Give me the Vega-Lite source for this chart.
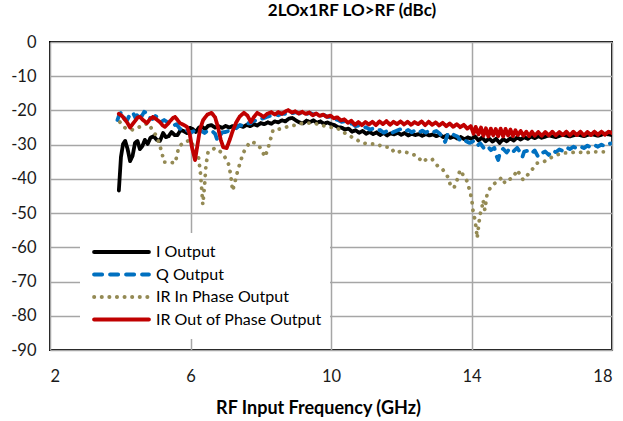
{
  "$schema": "https://vega.github.io/schema/vega-lite/v6.json",
  "width": 562,
  "height": 308,
  "autosize": "none",
  "padding": {"left": 50, "top": 42, "right": 11, "bottom": 71},
  "background": "white",
  "title": {"text": "2LOx1RF LO>RF (dBc)", "fontSize": 17, "font": "Lato", "fontWeight": "bold", "color": "#000000", "offset": 14, "dx": 21},
  "config": {
    "view": {"stroke": "#000000", "strokeWidth": 2},
    "axis": {"labelFont": "Lato", "labelFontSize": 16.5, "labelColor": "#1a1a1a", "titleFont": "Lato", "titleFontSize": 18, "titleFontWeight": "bold", "titleColor": "#000000", "gridColor": "#a6a6a6", "gridWidth": 1.5, "gridOpacity": 1, "domain": false, "ticks": false},
    "legend": {"labelFont": "Lato", "labelFontSize": 16, "labelColor": "#000000", "labelLimit": 400}
  },
  "data": {"values": [
    {"s":"I Output","f":3.96,"db":-43.4},{"s":"I Output","f":4.02,"db":-33.6},{"s":"I Output","f":4.08,"db":-29.8},{"s":"I Output","f":4.14,"db":-28.9},{"s":"I Output","f":4.21,"db":-31.3},{"s":"I Output","f":4.28,"db":-34.8},{"s":"I Output","f":4.35,"db":-33.3},{"s":"I Output","f":4.42,"db":-29.5},{"s":"I Output","f":4.49,"db":-28.9},{"s":"I Output","f":4.56,"db":-31.3},{"s":"I Output","f":4.63,"db":-30.4},{"s":"I Output","f":4.7,"db":-28.6},{"s":"I Output","f":4.78,"db":-29.8},{"s":"I Output","f":4.86,"db":-28.0},{"s":"I Output","f":4.95,"db":-27.5},{"s":"I Output","f":5.04,"db":-28.6},{"s":"I Output","f":5.13,"db":-28.9},{"s":"I Output","f":5.22,"db":-26.6},{"s":"I Output","f":5.3,"db":-27.8},{"s":"I Output","f":5.38,"db":-27.5},{"s":"I Output","f":5.46,"db":-26.3},{"s":"I Output","f":5.55,"db":-27.2},{"s":"I Output","f":5.63,"db":-27.2},{"s":"I Output","f":5.72,"db":-25.7},{"s":"I Output","f":5.8,"db":-26.0},{"s":"I Output","f":5.9,"db":-26.6},{"s":"I Output","f":5.98,"db":-25.1},{"s":"I Output","f":6.06,"db":-25.4},{"s":"I Output","f":6.15,"db":-26.3},{"s":"I Output","f":6.24,"db":-25.0},{"s":"I Output","f":6.33,"db":-24.8},{"s":"I Output","f":6.42,"db":-25.4},{"s":"I Output","f":6.5,"db":-24.5},{"s":"I Output","f":6.6,"db":-24.3},{"s":"I Output","f":6.7,"db":-25.0},{"s":"I Output","f":6.8,"db":-24.6},{"s":"I Output","f":6.9,"db":-25.1},{"s":"I Output","f":7.0,"db":-24.5},{"s":"I Output","f":7.1,"db":-25.0},{"s":"I Output","f":7.2,"db":-24.6},{"s":"I Output","f":7.3,"db":-24.9},{"s":"I Output","f":7.4,"db":-24.4},{"s":"I Output","f":7.5,"db":-24.8},{"s":"I Output","f":7.6,"db":-24.2},{"s":"I Output","f":7.7,"db":-24.6},{"s":"I Output","f":7.8,"db":-24.0},{"s":"I Output","f":7.9,"db":-24.4},{"s":"I Output","f":8.0,"db":-23.7},{"s":"I Output","f":8.1,"db":-24.0},{"s":"I Output","f":8.2,"db":-23.5},{"s":"I Output","f":8.3,"db":-23.9},{"s":"I Output","f":8.4,"db":-23.2},{"s":"I Output","f":8.5,"db":-23.5},{"s":"I Output","f":8.6,"db":-22.9},{"s":"I Output","f":8.7,"db":-23.2},{"s":"I Output","f":8.8,"db":-22.4},{"s":"I Output","f":8.9,"db":-22.2},{"s":"I Output","f":9.0,"db":-22.9},{"s":"I Output","f":9.1,"db":-23.5},{"s":"I Output","f":9.2,"db":-23.8},{"s":"I Output","f":9.3,"db":-23.0},{"s":"I Output","f":9.4,"db":-23.4},{"s":"I Output","f":9.5,"db":-22.9},{"s":"I Output","f":9.6,"db":-23.6},{"s":"I Output","f":9.7,"db":-23.2},{"s":"I Output","f":9.8,"db":-23.9},{"s":"I Output","f":9.9,"db":-23.5},{"s":"I Output","f":10.0,"db":-24.0},{"s":"I Output","f":10.1,"db":-24.3},{"s":"I Output","f":10.2,"db":-24.9},{"s":"I Output","f":10.3,"db":-25.0},{"s":"I Output","f":10.4,"db":-25.6},{"s":"I Output","f":10.5,"db":-25.3},{"s":"I Output","f":10.6,"db":-26.2},{"s":"I Output","f":10.7,"db":-25.8},{"s":"I Output","f":10.8,"db":-26.5},{"s":"I Output","f":10.9,"db":-26.0},{"s":"I Output","f":11.0,"db":-26.8},{"s":"I Output","f":11.1,"db":-26.3},{"s":"I Output","f":11.2,"db":-26.9},{"s":"I Output","f":11.3,"db":-26.4},{"s":"I Output","f":11.4,"db":-27.2},{"s":"I Output","f":11.5,"db":-26.6},{"s":"I Output","f":11.6,"db":-27.3},{"s":"I Output","f":11.7,"db":-26.7},{"s":"I Output","f":11.8,"db":-27.0},{"s":"I Output","f":11.9,"db":-26.5},{"s":"I Output","f":12.0,"db":-27.1},{"s":"I Output","f":12.1,"db":-26.6},{"s":"I Output","f":12.2,"db":-27.3},{"s":"I Output","f":12.3,"db":-26.8},{"s":"I Output","f":12.4,"db":-27.2},{"s":"I Output","f":12.5,"db":-26.9},{"s":"I Output","f":12.6,"db":-27.4},{"s":"I Output","f":12.7,"db":-26.9},{"s":"I Output","f":12.8,"db":-27.3},{"s":"I Output","f":12.9,"db":-27.0},{"s":"I Output","f":13.0,"db":-27.5},{"s":"I Output","f":13.1,"db":-27.1},{"s":"I Output","f":13.2,"db":-27.8},{"s":"I Output","f":13.3,"db":-27.3},{"s":"I Output","f":13.4,"db":-28.0},{"s":"I Output","f":13.5,"db":-27.6},{"s":"I Output","f":13.6,"db":-28.2},{"s":"I Output","f":13.7,"db":-27.8},{"s":"I Output","f":13.8,"db":-28.4},{"s":"I Output","f":13.9,"db":-27.9},{"s":"I Output","f":14.0,"db":-28.3},{"s":"I Output","f":14.1,"db":-27.6},{"s":"I Output","f":14.2,"db":-28.8},{"s":"I Output","f":14.3,"db":-27.9},{"s":"I Output","f":14.4,"db":-29.0},{"s":"I Output","f":14.5,"db":-28.2},{"s":"I Output","f":14.6,"db":-29.1},{"s":"I Output","f":14.7,"db":-28.3},{"s":"I Output","f":14.8,"db":-29.5},{"s":"I Output","f":14.9,"db":-28.4},{"s":"I Output","f":15.0,"db":-29.0},{"s":"I Output","f":15.1,"db":-28.2},{"s":"I Output","f":15.2,"db":-28.8},{"s":"I Output","f":15.3,"db":-27.9},{"s":"I Output","f":15.4,"db":-28.5},{"s":"I Output","f":15.5,"db":-27.8},{"s":"I Output","f":15.6,"db":-28.3},{"s":"I Output","f":15.7,"db":-27.6},{"s":"I Output","f":15.8,"db":-28.1},{"s":"I Output","f":15.9,"db":-27.5},{"s":"I Output","f":16.0,"db":-28.0},{"s":"I Output","f":16.2,"db":-27.3},{"s":"I Output","f":16.4,"db":-27.8},{"s":"I Output","f":16.6,"db":-27.1},{"s":"I Output","f":16.8,"db":-27.6},{"s":"I Output","f":17.0,"db":-27.0},{"s":"I Output","f":17.2,"db":-27.5},{"s":"I Output","f":17.4,"db":-26.9},{"s":"I Output","f":17.6,"db":-27.4},{"s":"I Output","f":17.8,"db":-26.8},{"s":"I Output","f":18.0,"db":-27.2},

    {"s":"Q Output","f":3.92,"db":-22.8},{"s":"Q Output","f":3.98,"db":-21.0},{"s":"Q Output","f":4.05,"db":-20.4},{"s":"Q Output","f":4.12,"db":-22.5},{"s":"Q Output","f":4.2,"db":-22.8},{"s":"Q Output","f":4.28,"db":-21.0},{"s":"Q Output","f":4.36,"db":-20.6},{"s":"Q Output","f":4.44,"db":-22.3},{"s":"Q Output","f":4.52,"db":-20.5},{"s":"Q Output","f":4.6,"db":-21.9},{"s":"Q Output","f":4.68,"db":-20.4},{"s":"Q Output","f":4.76,"db":-20.7},{"s":"Q Output","f":4.84,"db":-22.2},{"s":"Q Output","f":4.92,"db":-22.5},{"s":"Q Output","f":5.0,"db":-21.6},{"s":"Q Output","f":5.08,"db":-22.2},{"s":"Q Output","f":5.16,"db":-23.4},{"s":"Q Output","f":5.25,"db":-22.8},{"s":"Q Output","f":5.34,"db":-23.4},{"s":"Q Output","f":5.42,"db":-24.3},{"s":"Q Output","f":5.5,"db":-24.5},{"s":"Q Output","f":5.6,"db":-24.0},{"s":"Q Output","f":5.7,"db":-25.4},{"s":"Q Output","f":5.8,"db":-25.0},{"s":"Q Output","f":5.9,"db":-25.8},{"s":"Q Output","f":6.0,"db":-26.6},{"s":"Q Output","f":6.1,"db":-26.0},{"s":"Q Output","f":6.2,"db":-26.8},{"s":"Q Output","f":6.3,"db":-25.9},{"s":"Q Output","f":6.4,"db":-26.6},{"s":"Q Output","f":6.5,"db":-25.8},{"s":"Q Output","f":6.6,"db":-25.9},{"s":"Q Output","f":6.7,"db":-26.8},{"s":"Q Output","f":6.76,"db":-28.6},{"s":"Q Output","f":6.82,"db":-28.0},{"s":"Q Output","f":6.9,"db":-26.4},{"s":"Q Output","f":7.0,"db":-26.3},{"s":"Q Output","f":7.1,"db":-25.9},{"s":"Q Output","f":7.2,"db":-25.0},{"s":"Q Output","f":7.3,"db":-25.2},{"s":"Q Output","f":7.4,"db":-24.3},{"s":"Q Output","f":7.5,"db":-24.5},{"s":"Q Output","f":7.6,"db":-23.7},{"s":"Q Output","f":7.7,"db":-23.8},{"s":"Q Output","f":7.8,"db":-22.9},{"s":"Q Output","f":7.9,"db":-23.2},{"s":"Q Output","f":8.0,"db":-22.5},{"s":"Q Output","f":8.1,"db":-22.2},{"s":"Q Output","f":8.2,"db":-21.8},{"s":"Q Output","f":8.3,"db":-21.5},{"s":"Q Output","f":8.4,"db":-21.2},{"s":"Q Output","f":8.5,"db":-21.4},{"s":"Q Output","f":8.6,"db":-20.9},{"s":"Q Output","f":8.7,"db":-21.0},{"s":"Q Output","f":8.8,"db":-20.5},{"s":"Q Output","f":8.9,"db":-20.8},{"s":"Q Output","f":9.0,"db":-20.5},{"s":"Q Output","f":9.1,"db":-20.9},{"s":"Q Output","f":9.2,"db":-20.6},{"s":"Q Output","f":9.3,"db":-21.1},{"s":"Q Output","f":9.4,"db":-20.7},{"s":"Q Output","f":9.5,"db":-21.2},{"s":"Q Output","f":9.6,"db":-20.9},{"s":"Q Output","f":9.7,"db":-21.5},{"s":"Q Output","f":9.8,"db":-21.3},{"s":"Q Output","f":9.9,"db":-21.9},{"s":"Q Output","f":10.0,"db":-21.8},{"s":"Q Output","f":10.1,"db":-22.5},{"s":"Q Output","f":10.2,"db":-22.8},{"s":"Q Output","f":10.3,"db":-23.3},{"s":"Q Output","f":10.4,"db":-23.2},{"s":"Q Output","f":10.5,"db":-24.0},{"s":"Q Output","f":10.6,"db":-23.8},{"s":"Q Output","f":10.7,"db":-24.6},{"s":"Q Output","f":10.8,"db":-24.4},{"s":"Q Output","f":10.9,"db":-25.2},{"s":"Q Output","f":11.0,"db":-24.9},{"s":"Q Output","f":11.1,"db":-25.6},{"s":"Q Output","f":11.2,"db":-25.3},{"s":"Q Output","f":11.3,"db":-26.0},{"s":"Q Output","f":11.4,"db":-25.7},{"s":"Q Output","f":11.5,"db":-26.5},{"s":"Q Output","f":11.6,"db":-26.0},{"s":"Q Output","f":11.7,"db":-26.8},{"s":"Q Output","f":11.8,"db":-26.2},{"s":"Q Output","f":11.9,"db":-25.8},{"s":"Q Output","f":12.0,"db":-25.4},{"s":"Q Output","f":12.1,"db":-26.2},{"s":"Q Output","f":12.2,"db":-25.7},{"s":"Q Output","f":12.3,"db":-26.4},{"s":"Q Output","f":12.4,"db":-25.8},{"s":"Q Output","f":12.5,"db":-26.5},{"s":"Q Output","f":12.6,"db":-25.9},{"s":"Q Output","f":12.7,"db":-26.5},{"s":"Q Output","f":12.8,"db":-25.8},{"s":"Q Output","f":12.9,"db":-26.4},{"s":"Q Output","f":13.0,"db":-26.0},{"s":"Q Output","f":13.1,"db":-26.8},{"s":"Q Output","f":13.18,"db":-28.0},{"s":"Q Output","f":13.25,"db":-29.2},{"s":"Q Output","f":13.32,"db":-27.0},{"s":"Q Output","f":13.4,"db":-26.4},{"s":"Q Output","f":13.5,"db":-27.2},{"s":"Q Output","f":13.6,"db":-27.6},{"s":"Q Output","f":13.68,"db":-28.8},{"s":"Q Output","f":13.76,"db":-28.3},{"s":"Q Output","f":13.85,"db":-29.0},{"s":"Q Output","f":13.95,"db":-29.5},{"s":"Q Output","f":14.05,"db":-29.0},{"s":"Q Output","f":14.15,"db":-30.4},{"s":"Q Output","f":14.25,"db":-29.6},{"s":"Q Output","f":14.35,"db":-31.0},{"s":"Q Output","f":14.45,"db":-30.3},{"s":"Q Output","f":14.55,"db":-31.6},{"s":"Q Output","f":14.65,"db":-30.9},{"s":"Q Output","f":14.72,"db":-33.5},{"s":"Q Output","f":14.76,"db":-34.5},{"s":"Q Output","f":14.82,"db":-32.0},{"s":"Q Output","f":14.9,"db":-31.2},{"s":"Q Output","f":15.0,"db":-32.3},{"s":"Q Output","f":15.1,"db":-31.0},{"s":"Q Output","f":15.2,"db":-31.9},{"s":"Q Output","f":15.3,"db":-30.9},{"s":"Q Output","f":15.4,"db":-32.5},{"s":"Q Output","f":15.45,"db":-33.6},{"s":"Q Output","f":15.5,"db":-32.0},{"s":"Q Output","f":15.6,"db":-31.8},{"s":"Q Output","f":15.7,"db":-32.6},{"s":"Q Output","f":15.8,"db":-31.7},{"s":"Q Output","f":15.9,"db":-33.6},{"s":"Q Output","f":16.0,"db":-32.5},{"s":"Q Output","f":16.1,"db":-32.0},{"s":"Q Output","f":16.2,"db":-33.0},{"s":"Q Output","f":16.3,"db":-31.7},{"s":"Q Output","f":16.4,"db":-32.2},{"s":"Q Output","f":16.5,"db":-31.4},{"s":"Q Output","f":16.6,"db":-31.8},{"s":"Q Output","f":16.7,"db":-30.8},{"s":"Q Output","f":16.8,"db":-31.3},{"s":"Q Output","f":16.9,"db":-30.6},{"s":"Q Output","f":17.0,"db":-31.1},{"s":"Q Output","f":17.1,"db":-30.5},{"s":"Q Output","f":17.2,"db":-31.0},{"s":"Q Output","f":17.3,"db":-30.3},{"s":"Q Output","f":17.4,"db":-30.8},{"s":"Q Output","f":17.5,"db":-30.1},{"s":"Q Output","f":17.6,"db":-30.6},{"s":"Q Output","f":17.7,"db":-30.0},{"s":"Q Output","f":17.8,"db":-30.5},{"s":"Q Output","f":17.9,"db":-29.8},{"s":"Q Output","f":18.0,"db":-29.6},

    {"s":"IR In Phase Output","f":3.99,"db":-23.4},{"s":"IR In Phase Output","f":4.14,"db":-25.1},{"s":"IR In Phase Output","f":4.36,"db":-25.7},{"s":"IR In Phase Output","f":4.79,"db":-23.7},{"s":"IR In Phase Output","f":5.05,"db":-27.8},{"s":"IR In Phase Output","f":5.19,"db":-32.4},{"s":"IR In Phase Output","f":5.24,"db":-35.1},{"s":"IR In Phase Output","f":5.4,"db":-35.1},{"s":"IR In Phase Output","f":5.56,"db":-35.4},{"s":"IR In Phase Output","f":5.62,"db":-33.0},{"s":"IR In Phase Output","f":5.66,"db":-30.7},{"s":"IR In Phase Output","f":5.79,"db":-29.5},{"s":"IR In Phase Output","f":5.99,"db":-28.6},{"s":"IR In Phase Output","f":6.22,"db":-33.0},{"s":"IR In Phase Output","f":6.28,"db":-38.0},{"s":"IR In Phase Output","f":6.32,"db":-43.0},{"s":"IR In Phase Output","f":6.35,"db":-47.5},{"s":"IR In Phase Output","f":6.4,"db":-42.0},{"s":"IR In Phase Output","f":6.44,"db":-36.0},{"s":"IR In Phase Output","f":6.5,"db":-32.1},{"s":"IR In Phase Output","f":6.7,"db":-31.0},{"s":"IR In Phase Output","f":6.9,"db":-32.4},{"s":"IR In Phase Output","f":7.07,"db":-35.1},{"s":"IR In Phase Output","f":7.14,"db":-38.5},{"s":"IR In Phase Output","f":7.2,"db":-43.5},{"s":"IR In Phase Output","f":7.28,"db":-40.3},{"s":"IR In Phase Output","f":7.35,"db":-37.4},{"s":"IR In Phase Output","f":7.5,"db":-32.4},{"s":"IR In Phase Output","f":7.69,"db":-29.2},{"s":"IR In Phase Output","f":7.84,"db":-29.5},{"s":"IR In Phase Output","f":8.0,"db":-31.0},{"s":"IR In Phase Output","f":8.12,"db":-33.6},{"s":"IR In Phase Output","f":8.21,"db":-31.0},{"s":"IR In Phase Output","f":8.35,"db":-25.7},{"s":"IR In Phase Output","f":8.55,"db":-25.4},{"s":"IR In Phase Output","f":8.75,"db":-24.8},{"s":"IR In Phase Output","f":8.98,"db":-24.3},{"s":"IR In Phase Output","f":9.2,"db":-23.7},{"s":"IR In Phase Output","f":9.46,"db":-23.7},{"s":"IR In Phase Output","f":9.63,"db":-24.0},{"s":"IR In Phase Output","f":9.9,"db":-24.8},{"s":"IR In Phase Output","f":10.17,"db":-25.1},{"s":"IR In Phase Output","f":10.34,"db":-26.3},{"s":"IR In Phase Output","f":10.68,"db":-28.3},{"s":"IR In Phase Output","f":10.9,"db":-29.5},{"s":"IR In Phase Output","f":11.1,"db":-29.8},{"s":"IR In Phase Output","f":11.31,"db":-29.8},{"s":"IR In Phase Output","f":11.48,"db":-30.7},{"s":"IR In Phase Output","f":11.68,"db":-30.7},{"s":"IR In Phase Output","f":11.82,"db":-32.4},{"s":"IR In Phase Output","f":12.02,"db":-31.9},{"s":"IR In Phase Output","f":12.2,"db":-32.4},{"s":"IR In Phase Output","f":12.45,"db":-33.3},{"s":"IR In Phase Output","f":12.6,"db":-35.1},{"s":"IR In Phase Output","f":12.73,"db":-34.2},{"s":"IR In Phase Output","f":12.88,"db":-34.2},{"s":"IR In Phase Output","f":12.95,"db":-35.4},{"s":"IR In Phase Output","f":13.05,"db":-36.3},{"s":"IR In Phase Output","f":13.19,"db":-37.4},{"s":"IR In Phase Output","f":13.33,"db":-39.5},{"s":"IR In Phase Output","f":13.4,"db":-41.8},{"s":"IR In Phase Output","f":13.5,"db":-42.7},{"s":"IR In Phase Output","f":13.62,"db":-39.5},{"s":"IR In Phase Output","f":13.67,"db":-37.4},{"s":"IR In Phase Output","f":13.87,"db":-40.6},{"s":"IR In Phase Output","f":13.96,"db":-43.8},{"s":"IR In Phase Output","f":14.01,"db":-46.2},{"s":"IR In Phase Output","f":14.04,"db":-49.1},{"s":"IR In Phase Output","f":14.1,"db":-52.0},{"s":"IR In Phase Output","f":14.14,"db":-55.0},{"s":"IR In Phase Output","f":14.16,"db":-57.3},{"s":"IR In Phase Output","f":14.24,"db":-50.6},{"s":"IR In Phase Output","f":14.3,"db":-48.2},{"s":"IR In Phase Output","f":14.33,"db":-46.2},{"s":"IR In Phase Output","f":14.38,"db":-49.1},{"s":"IR In Phase Output","f":14.44,"db":-44.7},{"s":"IR In Phase Output","f":14.47,"db":-43.8},{"s":"IR In Phase Output","f":14.58,"db":-41.8},{"s":"IR In Phase Output","f":14.73,"db":-40.9},{"s":"IR In Phase Output","f":14.87,"db":-39.5},{"s":"IR In Phase Output","f":14.95,"db":-41.2},{"s":"IR In Phase Output","f":15.04,"db":-40.3},{"s":"IR In Phase Output","f":15.18,"db":-39.7},{"s":"IR In Phase Output","f":15.3,"db":-37.4},{"s":"IR In Phase Output","f":15.47,"db":-40.3},{"s":"IR In Phase Output","f":15.67,"db":-38.0},{"s":"IR In Phase Output","f":15.87,"db":-35.4},{"s":"IR In Phase Output","f":16.04,"db":-35.1},{"s":"IR In Phase Output","f":16.24,"db":-33.9},{"s":"IR In Phase Output","f":16.43,"db":-33.0},{"s":"IR In Phase Output","f":16.6,"db":-32.4},{"s":"IR In Phase Output","f":16.8,"db":-32.4},{"s":"IR In Phase Output","f":17.0,"db":-32.1},{"s":"IR In Phase Output","f":17.23,"db":-32.4},{"s":"IR In Phase Output","f":17.46,"db":-32.1},{"s":"IR In Phase Output","f":17.72,"db":-32.1},{"s":"IR In Phase Output","f":17.94,"db":-32.1},

    {"s":"IR Out of Phase Output","f":3.96,"db":-21.0},{"s":"IR Out of Phase Output","f":4.05,"db":-21.6},{"s":"IR Out of Phase Output","f":4.12,"db":-22.5},{"s":"IR Out of Phase Output","f":4.19,"db":-23.4},{"s":"IR Out of Phase Output","f":4.28,"db":-25.0},{"s":"IR Out of Phase Output","f":4.35,"db":-24.0},{"s":"IR Out of Phase Output","f":4.42,"db":-23.1},{"s":"IR Out of Phase Output","f":4.5,"db":-22.0},{"s":"IR Out of Phase Output","f":4.56,"db":-21.9},{"s":"IR Out of Phase Output","f":4.65,"db":-22.8},{"s":"IR Out of Phase Output","f":4.76,"db":-23.7},{"s":"IR Out of Phase Output","f":4.85,"db":-22.5},{"s":"IR Out of Phase Output","f":4.93,"db":-21.9},{"s":"IR Out of Phase Output","f":5.03,"db":-22.6},{"s":"IR Out of Phase Output","f":5.13,"db":-23.4},{"s":"IR Out of Phase Output","f":5.2,"db":-24.3},{"s":"IR Out of Phase Output","f":5.27,"db":-24.8},{"s":"IR Out of Phase Output","f":5.35,"db":-24.0},{"s":"IR Out of Phase Output","f":5.42,"db":-23.1},{"s":"IR Out of Phase Output","f":5.5,"db":-22.2},{"s":"IR Out of Phase Output","f":5.56,"db":-21.9},{"s":"IR Out of Phase Output","f":5.63,"db":-22.8},{"s":"IR Out of Phase Output","f":5.7,"db":-23.7},{"s":"IR Out of Phase Output","f":5.8,"db":-24.2},{"s":"IR Out of Phase Output","f":5.9,"db":-24.8},{"s":"IR Out of Phase Output","f":5.98,"db":-27.0},{"s":"IR Out of Phase Output","f":6.04,"db":-30.7},{"s":"IR Out of Phase Output","f":6.13,"db":-34.5},{"s":"IR Out of Phase Output","f":6.2,"db":-30.0},{"s":"IR Out of Phase Output","f":6.27,"db":-25.5},{"s":"IR Out of Phase Output","f":6.36,"db":-22.8},{"s":"IR Out of Phase Output","f":6.48,"db":-21.2},{"s":"IR Out of Phase Output","f":6.6,"db":-20.7},{"s":"IR Out of Phase Output","f":6.7,"db":-22.0},{"s":"IR Out of Phase Output","f":6.78,"db":-24.8},{"s":"IR Out of Phase Output","f":6.86,"db":-28.5},{"s":"IR Out of Phase Output","f":6.93,"db":-30.7},{"s":"IR Out of Phase Output","f":7.03,"db":-31.0},{"s":"IR Out of Phase Output","f":7.12,"db":-28.5},{"s":"IR Out of Phase Output","f":7.2,"db":-26.0},{"s":"IR Out of Phase Output","f":7.3,"db":-23.5},{"s":"IR Out of Phase Output","f":7.4,"db":-21.8},{"s":"IR Out of Phase Output","f":7.52,"db":-20.7},{"s":"IR Out of Phase Output","f":7.62,"db":-21.5},{"s":"IR Out of Phase Output","f":7.72,"db":-23.4},{"s":"IR Out of Phase Output","f":7.8,"db":-22.0},{"s":"IR Out of Phase Output","f":7.9,"db":-20.7},{"s":"IR Out of Phase Output","f":8.0,"db":-21.3},{"s":"IR Out of Phase Output","f":8.08,"db":-21.9},{"s":"IR Out of Phase Output","f":8.18,"db":-21.0},{"s":"IR Out of Phase Output","f":8.3,"db":-20.5},{"s":"IR Out of Phase Output","f":8.4,"db":-21.2},{"s":"IR Out of Phase Output","f":8.5,"db":-20.5},{"s":"IR Out of Phase Output","f":8.6,"db":-21.0},{"s":"IR Out of Phase Output","f":8.7,"db":-20.3},{"s":"IR Out of Phase Output","f":8.78,"db":-19.9},{"s":"IR Out of Phase Output","f":8.88,"db":-20.6},{"s":"IR Out of Phase Output","f":8.98,"db":-20.3},{"s":"IR Out of Phase Output","f":9.08,"db":-20.9},{"s":"IR Out of Phase Output","f":9.18,"db":-20.4},{"s":"IR Out of Phase Output","f":9.28,"db":-21.0},{"s":"IR Out of Phase Output","f":9.38,"db":-20.6},{"s":"IR Out of Phase Output","f":9.48,"db":-21.4},{"s":"IR Out of Phase Output","f":9.58,"db":-20.9},{"s":"IR Out of Phase Output","f":9.68,"db":-21.6},{"s":"IR Out of Phase Output","f":9.78,"db":-21.2},{"s":"IR Out of Phase Output","f":9.88,"db":-21.9},{"s":"IR Out of Phase Output","f":9.98,"db":-21.5},{"s":"IR Out of Phase Output","f":10.08,"db":-22.3},{"s":"IR Out of Phase Output","f":10.18,"db":-22.0},{"s":"IR Out of Phase Output","f":10.28,"db":-22.9},{"s":"IR Out of Phase Output","f":10.38,"db":-22.6},{"s":"IR Out of Phase Output","f":10.48,"db":-23.6},{"s":"IR Out of Phase Output","f":10.58,"db":-23.0},{"s":"IR Out of Phase Output","f":10.68,"db":-24.2},{"s":"IR Out of Phase Output","f":10.78,"db":-23.4},{"s":"IR Out of Phase Output","f":10.88,"db":-24.3},{"s":"IR Out of Phase Output","f":10.98,"db":-23.4},{"s":"IR Out of Phase Output","f":11.08,"db":-24.1},{"s":"IR Out of Phase Output","f":11.18,"db":-23.3},{"s":"IR Out of Phase Output","f":11.28,"db":-24.3},{"s":"IR Out of Phase Output","f":11.38,"db":-23.2},{"s":"IR Out of Phase Output","f":11.48,"db":-24.0},{"s":"IR Out of Phase Output","f":11.58,"db":-23.1},{"s":"IR Out of Phase Output","f":11.68,"db":-24.2},{"s":"IR Out of Phase Output","f":11.78,"db":-23.3},{"s":"IR Out of Phase Output","f":11.88,"db":-24.0},{"s":"IR Out of Phase Output","f":11.98,"db":-23.2},{"s":"IR Out of Phase Output","f":12.08,"db":-24.1},{"s":"IR Out of Phase Output","f":12.18,"db":-23.3},{"s":"IR Out of Phase Output","f":12.28,"db":-24.2},{"s":"IR Out of Phase Output","f":12.38,"db":-23.4},{"s":"IR Out of Phase Output","f":12.48,"db":-24.0},{"s":"IR Out of Phase Output","f":12.58,"db":-23.2},{"s":"IR Out of Phase Output","f":12.68,"db":-24.3},{"s":"IR Out of Phase Output","f":12.78,"db":-23.3},{"s":"IR Out of Phase Output","f":12.88,"db":-24.2},{"s":"IR Out of Phase Output","f":12.98,"db":-23.5},{"s":"IR Out of Phase Output","f":13.08,"db":-24.4},{"s":"IR Out of Phase Output","f":13.18,"db":-23.6},{"s":"IR Out of Phase Output","f":13.28,"db":-24.6},{"s":"IR Out of Phase Output","f":13.38,"db":-23.8},{"s":"IR Out of Phase Output","f":13.48,"db":-24.8},{"s":"IR Out of Phase Output","f":13.58,"db":-24.0},{"s":"IR Out of Phase Output","f":13.68,"db":-24.9},{"s":"IR Out of Phase Output","f":13.78,"db":-24.2},{"s":"IR Out of Phase Output","f":13.88,"db":-25.3},{"s":"IR Out of Phase Output","f":13.98,"db":-24.6},{"s":"IR Out of Phase Output","f":14.06,"db":-26.8},{"s":"IR Out of Phase Output","f":14.12,"db":-24.8},{"s":"IR Out of Phase Output","f":14.2,"db":-27.0},{"s":"IR Out of Phase Output","f":14.27,"db":-25.0},{"s":"IR Out of Phase Output","f":14.34,"db":-27.4},{"s":"IR Out of Phase Output","f":14.41,"db":-25.2},{"s":"IR Out of Phase Output","f":14.48,"db":-27.6},{"s":"IR Out of Phase Output","f":14.55,"db":-25.3},{"s":"IR Out of Phase Output","f":14.62,"db":-27.3},{"s":"IR Out of Phase Output","f":14.69,"db":-25.4},{"s":"IR Out of Phase Output","f":14.76,"db":-27.5},{"s":"IR Out of Phase Output","f":14.83,"db":-25.3},{"s":"IR Out of Phase Output","f":14.9,"db":-27.6},{"s":"IR Out of Phase Output","f":14.97,"db":-25.4},{"s":"IR Out of Phase Output","f":15.04,"db":-27.3},{"s":"IR Out of Phase Output","f":15.11,"db":-25.6},{"s":"IR Out of Phase Output","f":15.18,"db":-27.5},{"s":"IR Out of Phase Output","f":15.25,"db":-25.8},{"s":"IR Out of Phase Output","f":15.32,"db":-27.2},{"s":"IR Out of Phase Output","f":15.4,"db":-26.0},{"s":"IR Out of Phase Output","f":15.48,"db":-27.4},{"s":"IR Out of Phase Output","f":15.56,"db":-26.2},{"s":"IR Out of Phase Output","f":15.64,"db":-27.5},{"s":"IR Out of Phase Output","f":15.72,"db":-26.2},{"s":"IR Out of Phase Output","f":15.8,"db":-27.4},{"s":"IR Out of Phase Output","f":15.9,"db":-26.3},{"s":"IR Out of Phase Output","f":16.0,"db":-27.4},{"s":"IR Out of Phase Output","f":16.1,"db":-26.3},{"s":"IR Out of Phase Output","f":16.2,"db":-27.3},{"s":"IR Out of Phase Output","f":16.3,"db":-26.2},{"s":"IR Out of Phase Output","f":16.4,"db":-27.3},{"s":"IR Out of Phase Output","f":16.5,"db":-26.3},{"s":"IR Out of Phase Output","f":16.6,"db":-27.2},{"s":"IR Out of Phase Output","f":16.7,"db":-26.2},{"s":"IR Out of Phase Output","f":16.8,"db":-27.3},{"s":"IR Out of Phase Output","f":16.9,"db":-26.2},{"s":"IR Out of Phase Output","f":17.0,"db":-27.2},{"s":"IR Out of Phase Output","f":17.1,"db":-26.2},{"s":"IR Out of Phase Output","f":17.2,"db":-27.3},{"s":"IR Out of Phase Output","f":17.3,"db":-26.3},{"s":"IR Out of Phase Output","f":17.4,"db":-27.2},{"s":"IR Out of Phase Output","f":17.5,"db":-26.2},{"s":"IR Out of Phase Output","f":17.6,"db":-27.1},{"s":"IR Out of Phase Output","f":17.7,"db":-26.2},{"s":"IR Out of Phase Output","f":17.8,"db":-27.1},{"s":"IR Out of Phase Output","f":17.9,"db":-26.2},{"s":"IR Out of Phase Output","f":18.0,"db":-26.6}
  ]},
  "mark": {"type": "line", "strokeWidth": 3.8, "strokeCap": "round", "strokeJoin": "round", "clip": true},
  "encoding": {
    "x": {"field": "f", "type": "quantitative", "scale": {"domain": [2, 18], "nice": false, "zero": false},
      "axis": {"values": [2, 6, 10, 14, 18], "title": "RF Input Frequency (GHz)", "labelPadding": 18, "titlePadding": 15, "titleX": 268, "titleAlign": "center", "labelExpr": "toString(datum.value)"}},
    "y": {"field": "db", "type": "quantitative", "scale": {"domain": [-90, 0], "nice": false, "zero": false},
      "axis": {"values": [-90, -80, -70, -60, -50, -40, -30, -20, -10, 0], "title": null, "labelPadding": 14, "labelExpr": "toString(datum.value)"}},
    "order": {"field": "f", "type": "quantitative"},
    "color": {"field": "s", "type": "nominal",
      "scale": {"domain": ["I Output", "Q Output", "IR In Phase Output", "IR Out of Phase Output"], "range": ["#000000", "#0070C0", "#948A54", "#C00000"]},
      "legend": {"title": null, "orient": "none", "legendX": 30, "legendY": 191, "padding": 8, "fillColor": "white", "symbolType": "stroke", "symbolSize": 3000, "symbolStrokeWidth": 4, "symbolOffset": 4, "clipHeight": 22, "rowPadding": 0.5, "labelOffset": 5,
        "encode": {"symbols": {"update": {"strokeCap": {"value": "round"}}}}}},
    "strokeDash": {"field": "s", "type": "nominal",
      "scale": {"domain": ["I Output", "Q Output", "IR In Phase Output", "IR Out of Phase Output"], "range": [[1, 0], [8, 8], [0.1, 7.5], [1, 0]]},
      "legend": null}
  }
}
